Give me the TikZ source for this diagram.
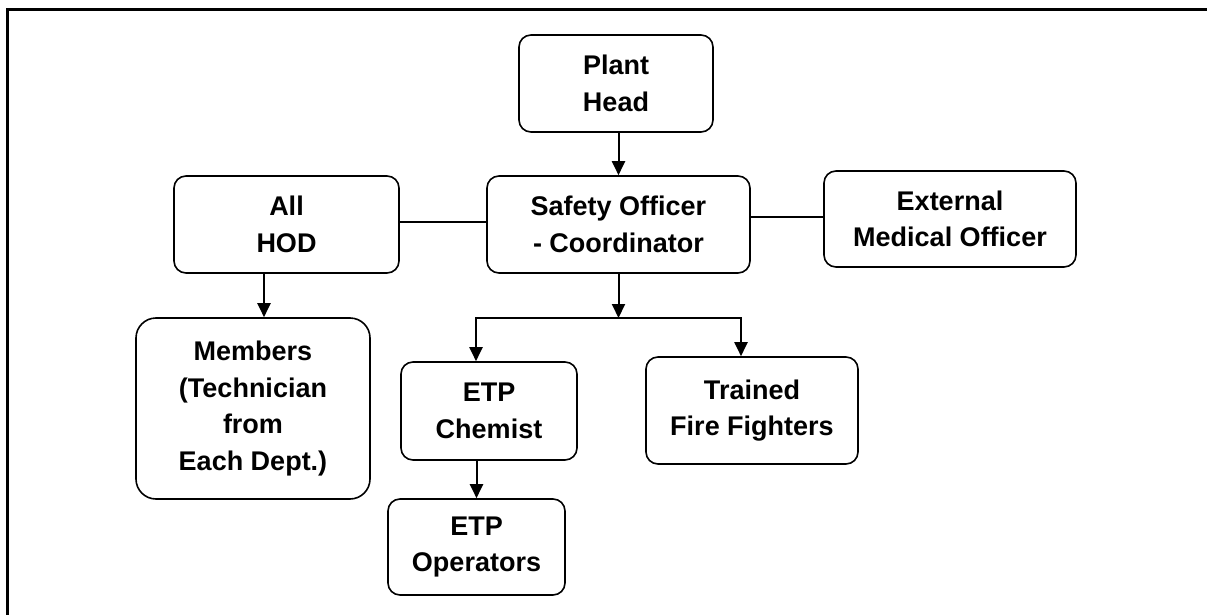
\documentclass[tikz,border=0pt]{standalone}
\usepackage{fontspec}
\setmainfont{Liberation Sans}
\usetikzlibrary{arrows.meta}
\begin{document}
\begin{tikzpicture}[x=1pt,y=-1pt,
  orgbox/.style={draw, line width=1.6pt, rounded corners=12pt, inner sep=0pt, align=center,
    font=\fontsize{27}{36.5}\selectfont\bfseries},
  arr/.style={line width=2pt, -{Triangle[length=14pt,width=13pt]}},
  link/.style={line width=1.6pt}]
\useasboundingbox (0,0) rectangle (1207,615);
\fill[white] (0,0) rectangle (1207,615);
% frame
\draw[line width=3pt] (7,620) -- (7,10) -- (1210,10);
% nodes
\node[orgbox, minimum width=194pt, minimum height=97pt] (ph) at (616,83.5) {Plant\\Head};
\node[orgbox, minimum width=263pt, minimum height=97pt] (so) at (618.5,224.5) {Safety Officer\\- Coordinator};
\node[orgbox, minimum width=225pt, minimum height=97pt] (hod) at (286.5,224.5) {All\\HOD};
\node[orgbox, minimum width=252pt, minimum height=96pt] (ext) at (950,219) {External\\Medical Officer};
\node[orgbox, rounded corners=20pt, minimum width=234pt, minimum height=181pt] (mem) at (253,408.5) {Members\\(Technician\\from\\Each Dept.)};
\node[orgbox, minimum width=176pt, minimum height=98pt] (chem) at (489,411) {ETP\\Chemist};
\node[orgbox, minimum width=212pt, minimum height=107pt] (fire) at (752,410.5) {Trained\\Fire Fighters};
\node[orgbox, minimum width=177pt, minimum height=96pt] (op) at (476.5,547) {ETP\\Operators};
\coordinate (j) at (618.5,318);
% connectors
\draw[arr] (ph.south -| so.north) -- (so.north);
\draw[link] (hod.east) ++(0,-2.5) -- ([yshift=2.5pt]so.west);
\draw[link] (so.east |- ext.west) ++(0,-2) -- ([yshift=2pt]ext.west);
\draw[arr] (so.south) -- (j);
\draw[arr] (j) -| ([xshift=-13pt]chem.north);
\draw[arr] (j) -| ([xshift=-11pt]fire.north);
\draw[arr] ([xshift=-22.5pt]hod.south) -- ([xshift=-22.5pt]hod.south |- mem.north);
\draw[arr] (op.north |- chem.south) -- (op.north);
\end{tikzpicture}
\end{document}
